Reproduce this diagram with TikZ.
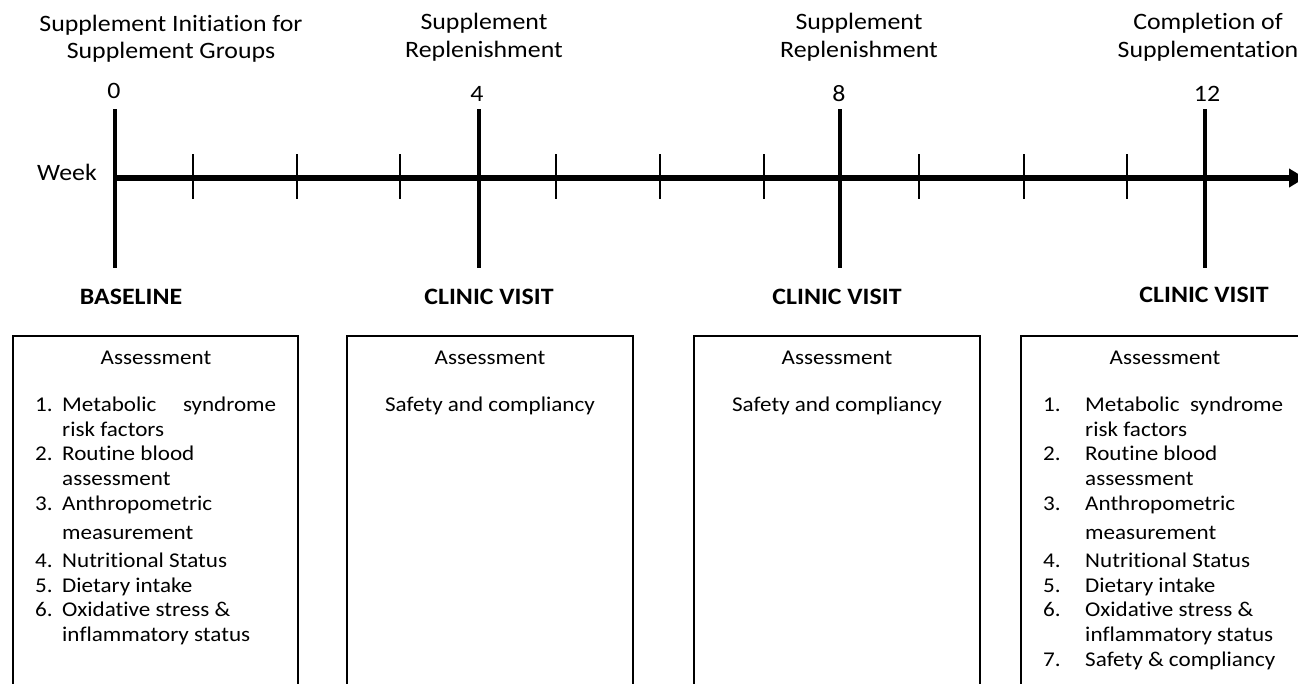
\documentclass[tikz,border=0pt]{standalone}
\usepackage{fontspec}
\setmainfont{Carlito}[FakeStretch=1.1,Ligatures={NoCommon,NoRequired,NoContextual},Contextuals=NoAlternate]
\usetikzlibrary{arrows.meta}
\tikzset{
  lbl/.style={font=\fontsize{23.5}{27}\selectfont, inner sep=0pt, anchor=base},
  hdr/.style={font=\fontsize{23.5}{27}\selectfont\bfseries, inner sep=0pt, anchor=base},
  txt/.style={font=\fontsize{21}{25}\selectfont, inner sep=0pt, anchor=base west},
  ctxt/.style={font=\fontsize{21}{25}\selectfont, inner sep=0pt, anchor=base},
  axisline/.style={line width=5.5pt, -{Triangle[length=16pt,width=18pt]}},
  majortick/.style={line width=4.5pt},
  minortick/.style={line width=1.6pt},
  boxline/.style={line width=2pt},
}
\begin{document}
\begin{tikzpicture}[x=1pt,y=-1pt]
\useasboundingbox (0,0) rectangle (1298,683);
\clip (0,0) rectangle (1298,683);

% top labels
\node[lbl] (t1a) at (171,31.7) {Supplement Initiation for};
\node[lbl] (t1b) at (171,58.3) {Supplement Groups};
\node[lbl] (t2a) at (484,29.5) {Supplement};
\node[lbl] (t2b) at (484,57) {Replenishment};
\node[lbl] (t3a) at (859,29.5) {Supplement};
\node[lbl] (t3b) at (859,57) {Replenishment};
\node[lbl] (t4a) at (1208,29.5) {Completion of};
\node[lbl] (t4b) at (1208,57) {Supplementation};

% week numbers
\node[lbl] (n0) at (114,98) {0};
\node[lbl] (n4) at (477,101) {4};
\node[lbl] (n8) at (839,101) {8};
\node[lbl] (n12) at (1207,101) {12};
\node[lbl] (week) at (67,180.5) {Week};

% axis
\coordinate (axstart) at (113,178);
\coordinate (axend) at (1305,178);
\draw[axisline] (axstart) -- (axend);

% major ticks
\foreach \x/\n in {115/a,479/b,840/c,1205/d}{
  \coordinate (mt\n) at (\x,109);
  \coordinate (mb\n) at (\x,268);
  \draw[majortick] (mt\n) -- (mb\n);
}
% minor ticks
\foreach \x [count=\i] in {193,297,400,556,660,764,919,1024,1127}{
  \coordinate (st\i) at (\x,154);
  \coordinate (sb\i) at (\x,199);
  \draw[minortick] (st\i) -- (sb\i);
}

% visit labels
\node[hdr] (v0) at (131,304) {BASELINE};
\node[hdr] (v4) at (489,304) {CLINIC VISIT};
\node[hdr] (v8) at (837,304) {CLINIC VISIT};
\node[hdr] (v12) at (1204,302) {CLINIC VISIT};

% boxes (open at the bottom, cut by the page)
\draw[boxline] (13,690) -- (13,336) -- (298,336) -- (298,690);
\draw[boxline] (347,690) -- (347,336) -- (633,336) -- (633,690);
\draw[boxline] (694,690) -- (694,336) -- (980,336) -- (980,690);
\draw[boxline] (1021,690) -- (1021,336) -- (1309,336) -- (1309,690);

% box 1
\node[ctxt] (a1) at (156,364.5) {Assessment};
\node[txt] (a1n1) at (35,411.5) {1.};
\node[txt] (a1l1) at (62,411.5) {\makebox[214pt][l]{Metabolic\hfill syndrome}};
\node[txt] (a1l2) at (62,436.5) {risk factors};
\node[txt] (a1n2) at (35,460.5) {2.};
\node[txt] (a1l3) at (62,460.5) {Routine blood};
\node[txt] (a1l4) at (62,485.5) {assessment};
\node[txt] (a1n3) at (35,510.5) {3.};
\node[txt] (a1l5) at (62,510.5) {Anthropometric};
\node[txt] (a1l6) at (62,539) {measurement};
\node[txt] (a1n4) at (35,567.5) {4.};
\node[txt] (a1l7) at (62,567.5) {Nutritional Status};
\node[txt] (a1n5) at (35,592) {5.};
\node[txt] (a1l8) at (62,592) {Dietary intake};
\node[txt] (a1n6) at (35,616.7) {6.};
\node[txt] (a1l9) at (62,616.7) {Oxidative stress \&};
\node[txt] (a1l10) at (62,641.7) {inflammatory status};

% box 2
\node[ctxt] (a2) at (490,364.5) {Assessment};
\node[ctxt] (a2l1) at (490,411.5) {Safety and compliancy};

% box 3
\node[ctxt] (a3) at (837,364.5) {Assessment};
\node[ctxt] (a3l1) at (837,411.5) {Safety and compliancy};

% box 4
\node[ctxt] (a4) at (1165,364.5) {Assessment};
\node[txt] (a4n1) at (1043,411.5) {1.};
\node[txt] (a4l1) at (1085,411.5) {\makebox[198pt][l]{Metabolic\hfill syndrome}};
\node[txt] (a4l2) at (1085,436.5) {risk factors};
\node[txt] (a4n2) at (1043,460.5) {2.};
\node[txt] (a4l3) at (1085,460.5) {Routine blood};
\node[txt] (a4l4) at (1085,485.5) {assessment};
\node[txt] (a4n3) at (1043,510.5) {3.};
\node[txt] (a4l5) at (1085,510.5) {Anthropometric};
\node[txt] (a4l6) at (1085,539) {measurement};
\node[txt] (a4n4) at (1043,567.5) {4.};
\node[txt] (a4l7) at (1085,567.5) {Nutritional Status};
\node[txt] (a4n5) at (1043,592) {5.};
\node[txt] (a4l8) at (1085,592) {Dietary intake};
\node[txt] (a4n6) at (1043,616.7) {6.};
\node[txt] (a4l9) at (1085,616.7) {Oxidative stress \&};
\node[txt] (a4l10) at (1085,641.7) {inflammatory status};
\node[txt] (a4n7) at (1043,666.5) {7.};
\node[txt] (a4l11) at (1085,666.5) {Safety \& compliancy};
\end{tikzpicture}
\end{document}
